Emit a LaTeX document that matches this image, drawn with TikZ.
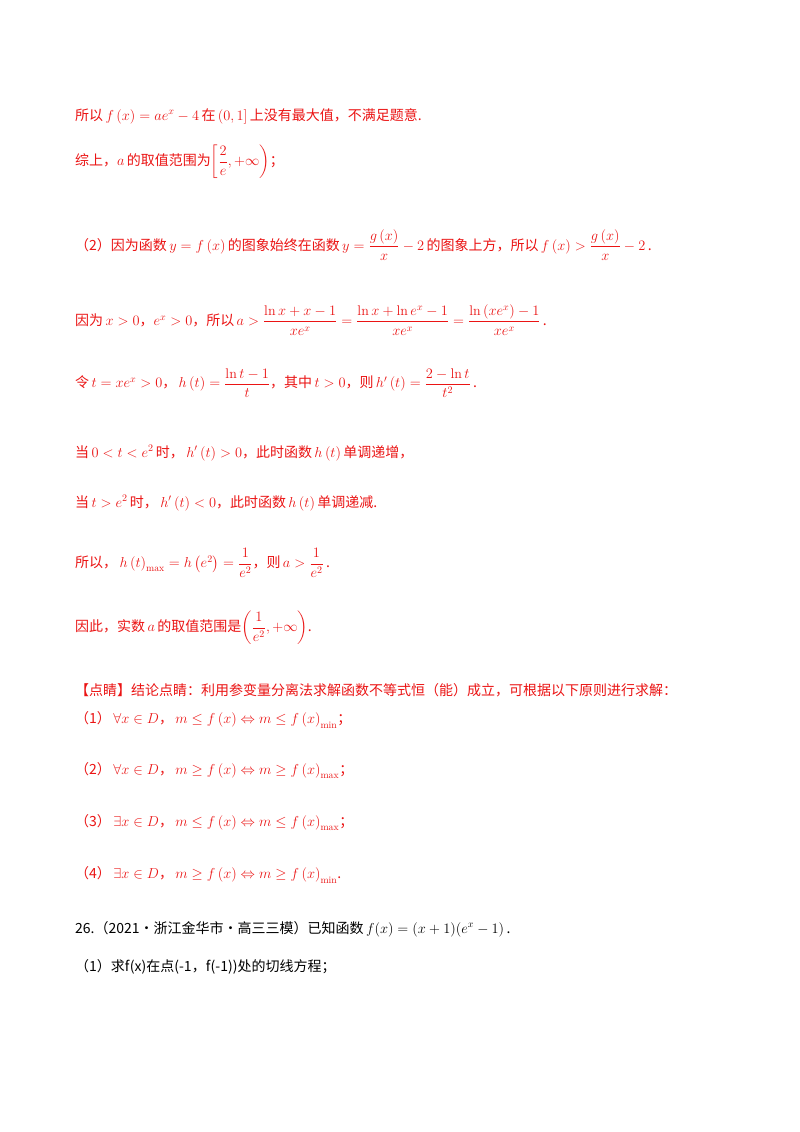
\documentclass[tikz,border=0pt]{standalone}
\usepackage{amsmath,amssymb}
\usepackage{fontspec}
\newfontfamily\cjk{Noto Sans CJK SC}
\definecolor{rd}{RGB}{235,20,20}
\begin{document}
\begin{tikzpicture}[x=1pt,y=-1pt,
  ln/.style={anchor=west,inner sep=0pt,text=rd,font=\cjk\fontsize{14}{16}\selectfont},
  bk/.style={ln,text=black}]
\useasboundingbox[fill=white] (0,0) rectangle (800,1132);
\node[ln] (l1) at (75,116) {所以\,$f\left(x\right)=ae^{x}-4$\,在\,$\left(0,1\right]$\,上没有最大值，不满足题意.};
\node[ln] (l2) at (75,162) {综上，$a$\,的取值范围为$\left[\dfrac{2}{e},+\infty\right)$；};
\node[ln] (l3) at (75,245) {（2）因为函数\,$y=f\left(x\right)$\,的图象始终在函数\,$y=\dfrac{g\left(x\right)}{x}-2$\,的图象上方，所以\,$f\left(x\right)>\dfrac{g\left(x\right)}{x}-2$\,.};
\node[ln] (l4) at (75,320) {因为\,$x>0$，$e^{x}>0$，所以\,$a>\dfrac{\ln x+x-1}{xe^{x}}=\dfrac{\ln x+\ln e^{x}-1}{xe^{x}}=\dfrac{\ln\left(xe^{x}\right)-1}{xe^{x}}$\,.};
\node[ln] (l5) at (75,383) {令\,$t=xe^{x}>0$，\,$h\left(t\right)=\dfrac{\ln t-1}{t}$，其中\,$t>0$，则\,$h'\left(t\right)=\dfrac{2-\ln t}{t^{2}}$\,.};
\node[ln] (l6) at (75,453) {当\,$0<t<e^{2}$\,时，\,$h'\left(t\right)>0$，此时函数\,$h\left(t\right)$\,单调递增，};
\node[ln] (l7) at (75,503) {当\,$t>e^{2}$\,时，\,$h'\left(t\right)<0$，此时函数\,$h\left(t\right)$\,单调递减.};
\node[ln] (l8) at (75,563) {所以，\,$h\left(t\right)_{\max}=h\left(e^{2}\right)=\dfrac{1}{e^{2}}$，则\,$a>\dfrac{1}{e^{2}}$\,.};
\node[ln] (l9) at (75,628) {因此，实数\,$a$\,的取值范围是$\left(\dfrac{1}{e^{2}},+\infty\right)$.};
\node[ln] (l10) at (75,690) {【点睛】结论点睛：利用参变量分离法求解函数不等式恒（能）成立，可根据以下原则进行求解：};
\node[ln] (l11) at (75,720) {（1）\,$\forall x\in D$，\,$m\le f\left(x\right)\Leftrightarrow m\le f\left(x\right)_{\min}$；};
\node[ln] (l12) at (75,771) {（2）\,$\forall x\in D$，\,$m\ge f\left(x\right)\Leftrightarrow m\ge f\left(x\right)_{\max}$；};
\node[ln] (l13) at (75,823) {（3）\,$\exists x\in D$，\,$m\le f\left(x\right)\Leftrightarrow m\le f\left(x\right)_{\max}$；};
\node[ln] (l14) at (75,875) {（4）\,$\exists x\in D$，\,$m\ge f\left(x\right)\Leftrightarrow m\ge f\left(x\right)_{\min}$.};
\node[bk] (l15) at (75,929) {26.（2021·浙江金华市·高三三模）已知函数\,$f(x)=(x+1)(e^{x}-1)$\,.};
\node[bk] (l16) at (75,967) {（1）求\textit{f}(\textit{x})在点(-1，\textit{f}(-1))处的切线方程；};
\end{tikzpicture}
\end{document}
